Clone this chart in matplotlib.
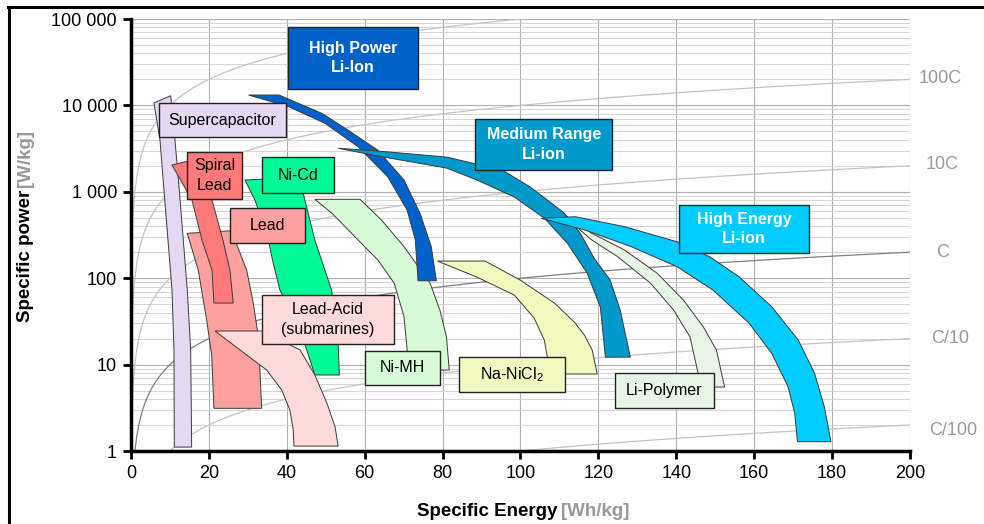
import numpy as np
import matplotlib.pyplot as plt
from matplotlib.patches import Polygon, Rectangle
from matplotlib.lines import Line2D
from matplotlib.ticker import LogLocator, NullFormatter

plt.rcParams['font.family'] = ['Liberation Sans', 'DejaVu Sans']
plt.rcParams['mathtext.default'] = 'regular'

# band outlines, (specific energy Wh/kg, specific power W/kg)
supercap = [(5.9, 10660), (7.45, 3980), (8.47, 1050), (9.5, 277), (10.53, 73), (11.04, 14.8),
            (11.12, 1.11), (15.58, 1.11), (15.33, 14.8), (14.45, 73), (13.43, 277), (12.4, 1050),
            (11.3, 3980), (10.19, 12950)]
lead = [(14.45, 331), (17.28, 124), (19.43, 32.8), (20.72, 12.9), (21.3, 3.12), (33.56, 3.12),
        (33.1, 8.66), (32.7, 21), (31.4, 51.6), (29.7, 124), (27.2, 242), (25.9, 355)]
spiral_lead = [(10.53, 2042), (15.66, 804), (18.23, 277), (20.8, 124), (21.3, 51.6), (26.26, 51.6),
               (25.4, 124), (23.6, 277), (20.8, 804), (19.0, 2530)]
ni_cd = [(29.27, 1370), (31.8, 804), (33.97, 435), (35.25, 277), (36.5, 150), (38.25, 73), (42.1, 32.8),
         (44.7, 16.9), (47.2, 7.58), (53.5, 7.58), (53.2, 16.9), (52.4, 32.8), (51.5, 73), (47.2, 277),
         (44.2, 969), (40.8, 1445)]
lead_acid = [(21.57, 24.5), (27.98, 14.8), (34.84, 8.66), (38.7, 5.08), (40.8, 2.98), (41.67, 1.75),
             (41.85, 1.14), (53.2, 1.14), (52.4, 1.9), (50.3, 3.59), (47.2, 7.58), (43.4, 14.8), (33.6, 24.5)]
ni_mh = [(47.2, 819), (51.6, 564), (57.5, 302), (63.4, 162), (67.6, 87.3), (70.1, 35.8), (70.9, 14.8),
         (71.3, 8.66), (81.7, 8.66), (81.0, 21), (79.3, 42.9), (76.8, 87.3), (70.1, 232), (64.3, 472),
         (58.8, 819)]
na_nicl2 = [(78.7, 158), (88.8, 103), (98.4, 63.9), (103.5, 34.6), (106.1, 19.3), (106.9, 12.2),
            (107.4, 7.78), (119.7, 7.78), (118.4, 14.8), (116.4, 22), (113.8, 31.1), (108.7, 51.6),
            (99.9, 95.3), (90.9, 158)]
high_power = [(30.2, 13190), (40.5, 9660), (49.8, 6210), (58.3, 3330), (65.9, 1496), (70.9, 615),
              (73.0, 277), (73.7, 93.4), (78.4, 93.4), (77.1, 232), (74.2, 564), (70.1, 1370),
              (63.3, 3050), (55.7, 5190), (49.0, 8100), (38.0, 13190)]
li_polymer = [(110.3, 584), (118.3, 331), (126.7, 212), (135.1, 114), (141.8, 56), (146.9, 27.5),
              (150.3, 14.8), (152.4, 5.5), (145.8, 5.5), (145.6, 7.93), (143.5, 21), (139.3, 42.9),
              (133.4, 87.3), (125.0, 177), (118.3, 277), (112.9, 447)]
medium = [(53.2, 3190), (63.4, 2595), (81.0, 1885), (88.8, 1370), (98.4, 871), (106.1, 497), (112.0, 255),
          (117.1, 115), (120.5, 46.4), (121.8, 12.2), (128.2, 12.2), (125.6, 42.9), (123.0, 95.3),
          (118.9, 171), (115.3, 334), (111.2, 569), (106.9, 804), (102.5, 1136), (95.3, 1786),
          (81.0, 2527), (63.4, 2965)]
high_energy = [(105.3, 494), (114.1, 515), (126.7, 395), (140.2, 264), (148.6, 177), (156.1, 104),
               (164.5, 46.8), (171.3, 19.3), (175.5, 7.93), (178.0, 3.26), (179.7, 1.28), (171.1, 1.28),
               (170.4, 2.73), (168.7, 5.55), (164.5, 13.5), (158.7, 30.1), (149.4, 73), (140.2, 136),
               (128.4, 232), (116.6, 361)]

c_rates = [1000, 100, 10, 1, 0.1, 0.01]
c_labels = ['', '100C', '10C', 'C', 'C/10', 'C/100']

x_ticks = list(range(0, 201, 20))
y_ticks = [1, 10, 100, 1000, 10000, 100000]
y_ticklabels = ['1', '10', '100', '1 000', '10 000', '100 000']

# draw order, fill colour
bands = [
    (supercap, '#e6d8f2'),
    (lead, '#ffa0a0'),
    (spiral_lead, '#ff7a7a'),
    (ni_cd, '#00fa96'),
    (lead_acid, '#ffdada'),
    (ni_mh, '#d9fad9'),
    (na_nicl2, '#f1f9c0'),
    (high_power, '#0062c8'),
    (li_polymer, '#e6f5e6'),
    (medium, '#0099cc'),
    (high_energy, '#00ccff'),
]

# label boxes: text, E0, E1, P0, P1, fill, text colour, bold
boxes = [
    ('High Power\nLi-Ion', 40.3, 73.6, 15490, 80750, '#0062c8', 'white', True),
    ('Supercapacitor', 7.2, 39.8, 4305, 10660, '#e6d8f2', 'black', False),
    ('Spiral\nLead', 14.4, 28.6, 826, 2891, '#ff7a7a', 'black', False),
    ('Ni-Cd', 33.6, 52.1, 968, 2529, '#00fa96', 'black', False),
    ('Lead', 25.3, 44.6, 255, 650, '#ffa0a0', 'black', False),
    ('Medium Range\nLi-ion', 88.3, 123.6, 1786, 6966, '#0099cc', 'white', True),
    ('High Energy\nLi-ion', 140.8, 174.0, 196, 703, '#00ccff', 'white', True),
    ('Lead-Acid\n(submarines)', 33.6, 67.6, 17.3, 64, '#ffdada', 'black', False),
    ('Ni-MH', 60.1, 79.3, 5.8, 14.4, '#d9fad9', 'black', False),
    ('Na-NiCl$_2$', 84.3, 111.3, 4.82, 12.2, '#f1f9c0', 'black', False),
    ('Li-Polymer', 124.2, 149.7, 3.15, 8.0, '#e6f5e6', 'black', False),
]

fig = plt.figure(figsize=(9.84, 5.24), dpi=100)
ax = fig.add_axes([0.1331, 0.1393, 0.7917, 0.8244])
ax.set_yscale('log')
ax.set_xlim(0, 200)
ax.set_ylim(1, 100000)

ax.set_xticks(x_ticks)
ax.set_yticks(y_ticks)
ax.set_yticklabels(y_ticklabels)
ax.yaxis.set_minor_locator(LogLocator(base=10, subs=range(2, 10)))
ax.yaxis.set_minor_formatter(NullFormatter())
ax.set_axisbelow(True)
ax.grid(which='major', color='#b0b0b0', lw=0.8)
ax.grid(which='minor', axis='y', color='#cfcfcf', lw=0.6)
ax.tick_params(which='major', direction='out', length=6, width=2, labelsize=13, pad=4)
ax.tick_params(which='minor', length=0)
for s in ['top', 'right']:
    ax.spines[s].set_visible(False)
for s in ['left', 'bottom']:
    ax.spines[s].set_linewidth(2.5)
    ax.spines[s].set_zorder(20)

# C-rate lines
e = np.concatenate([np.geomspace(1e-5, 1, 300), np.linspace(1, 200, 400)[1:]])
label_off = [(0, 0), (6, 1), (11, 1), (19, 0), (15, 0), (14, -4)]
for rate, lab, off in zip(c_rates, c_labels, label_off):
    ax.plot(e, rate * e, color='#808080' if rate == 1 else '#c4c4c4', lw=0.9, zorder=1.5)
    if lab:
        ax.annotate(lab, xy=(200, rate * 200), xytext=off, textcoords='offset points',
                    ha='left', va='center', fontsize=13, color='#9a9a9a', annotation_clip=False)

for i, (pts, col) in enumerate(bands):
    ax.add_patch(Polygon(pts, closed=True, facecolor=col, edgecolor='#3a3a3a', lw=0.7, zorder=3 + i * 0.1))

for txt, e0, e1, p0, p1, fc, tc, bold in boxes:
    ax.add_patch(Rectangle((e0, p0), e1 - e0, p1 - p0, facecolor=fc, edgecolor='#222222', lw=1, zorder=10))
    ax.text((e0 + e1) / 2, np.sqrt(p0 * p1), txt, ha='center', va='center', fontsize=11.5, color=tc,
            fontweight='bold' if bold else 'normal', linespacing=1.35, zorder=11)

# axis titles
fig.text(0.566, 0.023, 'Specific Energy', ha='right', va='center', fontsize=13.5, fontweight='bold')
fig.text(0.570, 0.023, '[Wh/kg]', ha='left', va='center', fontsize=13.5, fontweight='bold', color='#999999')
fig.text(0.026, 0.637, 'Specific power', rotation=90, ha='center', va='top', fontsize=13.5, fontweight='bold')
fig.text(0.026, 0.643, '[W/kg]', rotation=90, ha='center', va='bottom', fontsize=13.5, fontweight='bold',
         color='#999999')

# outer frame (top and left edges only visible)
fig.add_artist(Line2D([8 / 984, 1], [1 - 7 / 524, 1 - 7 / 524], color='black', lw=2.2))
fig.add_artist(Line2D([9 / 984, 9 / 984], [0, 1 - 7 / 524], color='black', lw=2.2))

fig.savefig('out.png', dpi=100, facecolor='white')
